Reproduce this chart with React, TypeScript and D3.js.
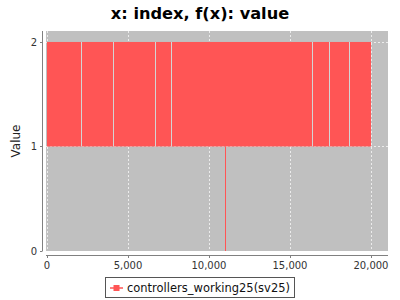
import React from "react";
import * as d3 from "d3";

const title = "x: index, f(x): value";
const seriesName = "controllers_working25(sv25)";
const yLabel = "Value";
const xTicks = [0, 5000, 10000, 15000, 20000];
const yTicks = [0, 1, 2];
// dense oscillation between low and high values over the index range
const oscRange = [0, 20000];
const oscLow = 1;
const oscHigh = 2;
// indices where the signal held steady briefly (background shows through)
const gapIndices = [2120, 4090, 6690, 7670, 16380, 17430, 18660];
// indices where the value dropped to 0
const dipIndices = [11005];
const dipValue = 0;

const W = 400, H = 300;
const plot = { left: 46, right: 388, top: 31, bottom: 251 };
const RED = "#ff5555";

export default function App() {
  const x = d3.scaleLinear().domain([-60, 21050]).range([plot.left, plot.right]);
  const y = d3.scaleLinear().domain([0, 2.105]).range([plot.bottom, plot.top]);
  const fmt = d3.format(",");
  const font = "DejaVu Sans, sans-serif";
  return (
    <svg width={W} height={H} style={{ position: "absolute", left: 0, top: 0 }}>
      <rect x={0} y={0} width={W} height={H} fill="#fff" />
      <text x={200} y={19} textAnchor="middle" fontFamily={font} fontWeight="bold" fontSize={16.2}>{title}</text>
      <rect x={plot.left} y={plot.top} width={plot.right - plot.left} height={plot.bottom - plot.top} fill="#c0c0c0" />
      {xTicks.map(t => (
        <line key={"gx" + t} x1={Math.round(x(t)) + 0.5} x2={Math.round(x(t)) + 0.5} y1={plot.top} y2={plot.bottom} stroke="#fff" strokeWidth={1} strokeDasharray="2,2" opacity={0.7} />
      ))}
      {yTicks.map(t => (
        <line key={"gy" + t} x1={plot.left} x2={plot.right} y1={Math.round(y(t)) + 0.5} y2={Math.round(y(t)) + 0.5} stroke="#fff" strokeWidth={1} strokeDasharray="2,2" opacity={0.7} />
      ))}
      <rect x={x(oscRange[0])} y={y(oscHigh)} width={x(oscRange[1]) - x(oscRange[0])} height={y(oscLow) - y(oscHigh)} fill={RED} />
      {gapIndices.map(g => (
        <line key={"g" + g} x1={Math.round(x(g)) + 0.5} x2={Math.round(x(g)) + 0.5} y1={y(oscHigh)} y2={y(oscLow)} stroke="#d4d4d4" strokeWidth={1} />
      ))}
      {dipIndices.map(d => (
        <line key={"d" + d} x1={Math.round(x(d)) + 0.5} x2={Math.round(x(d)) + 0.5} y1={y(oscLow)} y2={y(dipValue)} stroke={RED} strokeWidth={1} />
      ))}
      {/* y axis */}
      <line x1={42.5} x2={42.5} y1={plot.top} y2={plot.bottom} stroke="#808080" />
      {yTicks.map(t => (
        <g key={"yt" + t}>
          <line x1={40} x2={42.5} y1={Math.round(y(t)) + 0.5} y2={Math.round(y(t)) + 0.5} stroke="#808080" />
          <text x={37} y={y(t) + 4} textAnchor="end" fontFamily={font} fontSize={10} fill="#333">{t}</text>
        </g>
      ))}
      <text transform={`translate(20,${(plot.top + plot.bottom) / 2}) rotate(-90)`} textAnchor="middle" fontFamily={font} fontSize={12} fill="#222">{yLabel}</text>
      {/* x axis */}
      <line x1={plot.left} x2={plot.right} y1={255.5} y2={255.5} stroke="#808080" />
      {xTicks.map(t => (
        <g key={"xt" + t}>
          <line x1={Math.round(x(t)) + 0.5} x2={Math.round(x(t)) + 0.5} y1={255.5} y2={258} stroke="#808080" />
          <text x={x(t)} y={269} textAnchor="middle" fontFamily={font} fontSize={10} fill="#333">{fmt(t)}</text>
        </g>
      ))}
      {/* legend */}
      <rect x={105.5} y={277.5} width={189} height={20} fill="#fff" stroke="#555" />
      <line x1={110} x2={123} y1={288} y2={288} stroke={RED} strokeWidth={1.5} />
      <rect x={113.5} y={285} width={6} height={6} fill={RED} />
      <text x={127} y={292} fontFamily={font} fontSize={11.5} textLength={163} lengthAdjust="spacingAndGlyphs" fill="#111">{seriesName}</text>
    </svg>
  );
}
